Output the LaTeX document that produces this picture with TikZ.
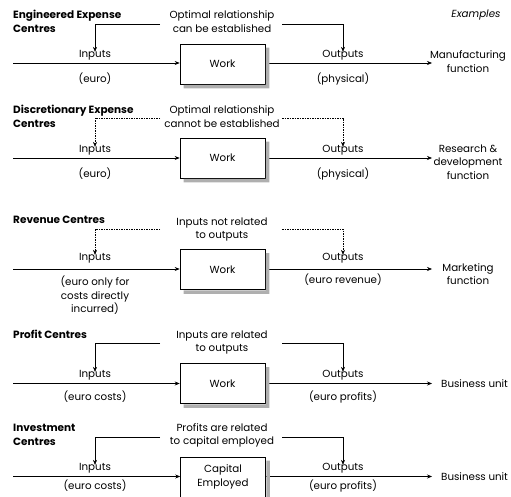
\documentclass[tikz,border=0pt]{standalone}
\usepackage{fontspec}
\setmainfont{Poppins}
\usetikzlibrary{arrows.meta}
\begin{document}
\begin{tikzpicture}[x=1pt,y=-1pt,
  lbl/.style={inner sep=0pt,font=\fontsize{10.3}{13.5}\selectfont,align=center},
  ttl/.style={inner sep=0pt,font=\fontsize{10.5}{13.5}\selectfont\bfseries,align=left,anchor=west},
  wbox/.style={draw,fill=white,line width=0.6pt,minimum width=85pt,minimum height=40pt,inner sep=0pt,
    font=\fontsize{10.3}{14}\selectfont,align=center},
  shd/.style={draw=none,fill=shadowgray},
  flow/.style={line width=0.6pt,-{Stealth[length=5pt,width=4pt]}},
  ctl/.style={line width=0.5pt,-{Stealth[length=5pt,width=4pt]}},
  dctl/.style={ctl,dash pattern=on 1.5pt off 1pt}]
\definecolor{shadowgray}{RGB}{175,175,175}
\useasboundingbox (0,0) rectangle (511,497);

\node[lbl,font=\fontsize{10.3}{13}\selectfont\itshape] (ex) at (476,15) {Examples};

% ---------- Panel 1
\node[ttl] (t1) at (13,21.5) {Engineered Expense\\Centres};
\node[lbl] (r1) at (222,21.5) {Optimal relationship\\can be established};
\node[wbox] (b1) at (222.5,64) {Work};
\node[lbl] (i1) at (95,55) {Inputs};
\node[lbl] (ie1) at (95,79) {(euro)};
\node[lbl] (o1) at (343,55) {Outputs};
\node[lbl] (oe1) at (343,79) {(physical)};
\node[lbl] (e1) at (468,61.5) {Manufacturing\\function};
\coordinate (s1) at (13,63);
\coordinate (f1) at (432,63);
\coordinate (cl1) at (160,24);
\coordinate (cr1) at (282,24);
\draw[flow] (s1) -- (s1 -| b1.west);
\draw[flow] (b1.east |- f1) -- (f1);
\draw[ctl] (cl1) -| ([yshift=-2pt]i1.north);
\draw[ctl] (cr1) -| ([yshift=-2pt]o1.north);

% ---------- Panel 2
\node[ttl] (t2) at (13,116.5) {Discretionary Expense\\Centres};
\node[lbl] (r2) at (222,116.5) {Optimal relationship\\cannot be established};
\node[wbox] (b2) at (222.5,158) {Work};
\node[lbl] (i2) at (95,150) {Inputs};
\node[lbl] (ie2) at (95,174) {(euro)};
\node[lbl] (o2) at (343,150) {Outputs};
\node[lbl] (oe2) at (343,174) {(physical)};
\node[lbl] (e2) at (468,162) {Research \&\\development\\function};
\coordinate (s2) at (13,158);
\coordinate (f2) at (432,158);
\coordinate (cl2) at (160,118);
\coordinate (cr2) at (282,118);
\draw[flow] (s2) -- (s2 -| b2.west);
\draw[flow] (b2.east |- f2) -- (f2);
\draw[dctl] (cl2) -| ([yshift=-2pt]i2.north);
\draw[dctl] (cr2) -| ([yshift=-2pt]o2.north);

% ---------- Panel 3
\node[ttl] (t3) at (13,220) {Revenue Centres};
\node[lbl] (r3) at (222,229.5) {Inputs not related\\to outputs};
\node[wbox] (b3) at (222.5,269.5) {Work};
\node[lbl] (i3) at (95,258) {Inputs};
\node[lbl] (ie3) at (95,295.5) {(euro only for\\costs directly\\incurred)};
\node[lbl] (o3) at (343,258) {Outputs};
\node[lbl] (oe3) at (343,280) {(euro revenue)};
\node[lbl] (e3) at (468,274) {Marketing\\function};
\coordinate (s3) at (13,269);
\coordinate (f3) at (432,269);
\coordinate (cl3) at (160,229);
\coordinate (cr3) at (282,229);
\draw[flow] (s3) -- (s3 -| b3.west);
\draw[flow] (b3.east |- f3) -- (f3);
\draw[dctl] (cl3) -| ([yshift=-2pt]i3.north);
\draw[dctl] (cr3) -| ([yshift=-2pt]o3.north);

% ---------- Panel 4
\node[ttl] (t4) at (13,334) {Profit Centres};
\node[lbl] (r4) at (222,342.5) {Inputs are related\\to outputs};
\node[wbox] (b4) at (222.5,383.5) {Work};
\node[lbl] (i4) at (95,375) {Inputs};
\node[lbl] (ie4) at (95,397) {(euro costs)};
\node[lbl] (o4) at (343,375) {Outputs};
\node[lbl] (oe4) at (343,397) {(euro profits)};
\node[lbl,anchor=west] (e4) at (441,384) {Business unit};
\coordinate (s4) at (13,383.5);
\coordinate (f4) at (432,383.5);
\coordinate (cl4) at (160,343);
\coordinate (cr4) at (282,343);
\draw[flow] (s4) -- (s4 -| b4.west);
\draw[flow] (b4.east |- s4) -- (f4);
\draw[ctl] (cl4) -| ([yshift=-2pt]i4.north);
\draw[ctl] (cr4) -| ([yshift=-2pt]o4.north);

% ---------- Panel 5
\node[ttl] (t5) at (13,435) {Investment\\Centres};
\node[lbl] (r5) at (222,435.5) {Profits are related\\to capital employed};
\node[wbox] (b5) at (223,477) {Capital\\Employed};
\node[lbl] (i5) at (95,468) {Inputs};
\node[lbl] (ie5) at (95,486) {(euro costs)};
\node[lbl] (o5) at (343,468) {Outputs};
\node[lbl] (oe5) at (343,486) {(euro profits)};
\node[lbl,anchor=west] (e5) at (441,477) {Business unit};
\coordinate (s5) at (13,476.5);
\coordinate (f5) at (432,476.5);
\coordinate (cl5) at (160,437);
\coordinate (cr5) at (282,437);
\draw[flow] (s5) -- (s5 -| b5.west);
\draw[flow] (b5.east |- s5) -- (f5);
\draw[ctl] (cl5) -| ([yshift=-2pt]i5.north);
\draw[ctl] (cr5) -| ([yshift=-2pt]o5.north);

% ---------- box shadows: L-shaped strips right of and below each box
\foreach \bx in {b1,b2,b3,b4,b5}{
  \path[shd] ([shift={(0.5,4)}]\bx.north east) -- ([shift={(4,4)}]\bx.north east)
     -- ([shift={(4,4)}]\bx.south east) -- ([shift={(4,4)}]\bx.south west)
     -- ([shift={(4,0.5)}]\bx.south west) -- ([shift={(0.5,0.5)}]\bx.south east) -- cycle;
}
\end{tikzpicture}
\end{document}
